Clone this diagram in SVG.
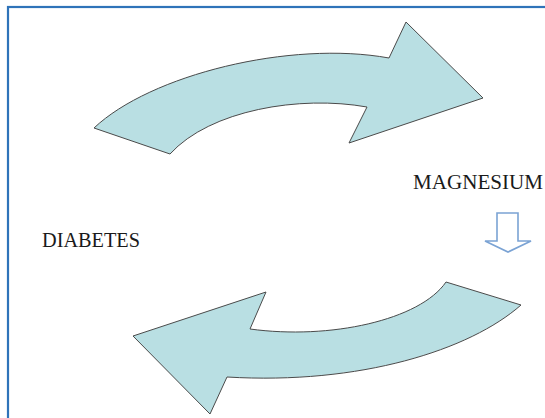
<svg xmlns="http://www.w3.org/2000/svg" width="545" height="418" viewBox="0 0 545 418">
<style>
.curve{fill:#b9dfe3;stroke:#4a4a4a;stroke-width:1;stroke-linejoin:miter}
.lbl{font-family:"Liberation Serif","Times New Roman",serif;font-size:20px;fill:#1a1a1a}
</style>
<rect x="0" y="0" width="545" height="418" fill="#ffffff"/>
<rect x="8" y="7" width="560" height="430" fill="none" stroke="#2f73b9" stroke-width="2.2"/>
<g id="connectors">
<path id="top-arrow" class="curve" d="M94,128 C150,75 290,40 389,58 L406,22 L483,98 L349,143 L367,107 C300,95 210,110 170,154 Z"/>
<path id="bottom-arrow" class="curve" d="M446,282 L521,305 C470,350 360,385 227,377 L210,414 L133,336 L266,292 L250,329 C330,340 420,320 446,282 Z"/>
<path id="down-arrow" d="M497,213 L518,213 L518,241 L531,241 L508,252 L485,241 L497,241 Z" fill="#ffffff" stroke="#7ba3d4" stroke-width="1.6"/>
</g>
<g id="magnesium"><text class="lbl" x="413" y="189" textLength="130" lengthAdjust="spacingAndGlyphs">MAGNESIUM</text></g>
<g id="diabetes"><text class="lbl" x="42" y="247" textLength="98" lengthAdjust="spacingAndGlyphs">DIABETES</text></g>
</svg>
